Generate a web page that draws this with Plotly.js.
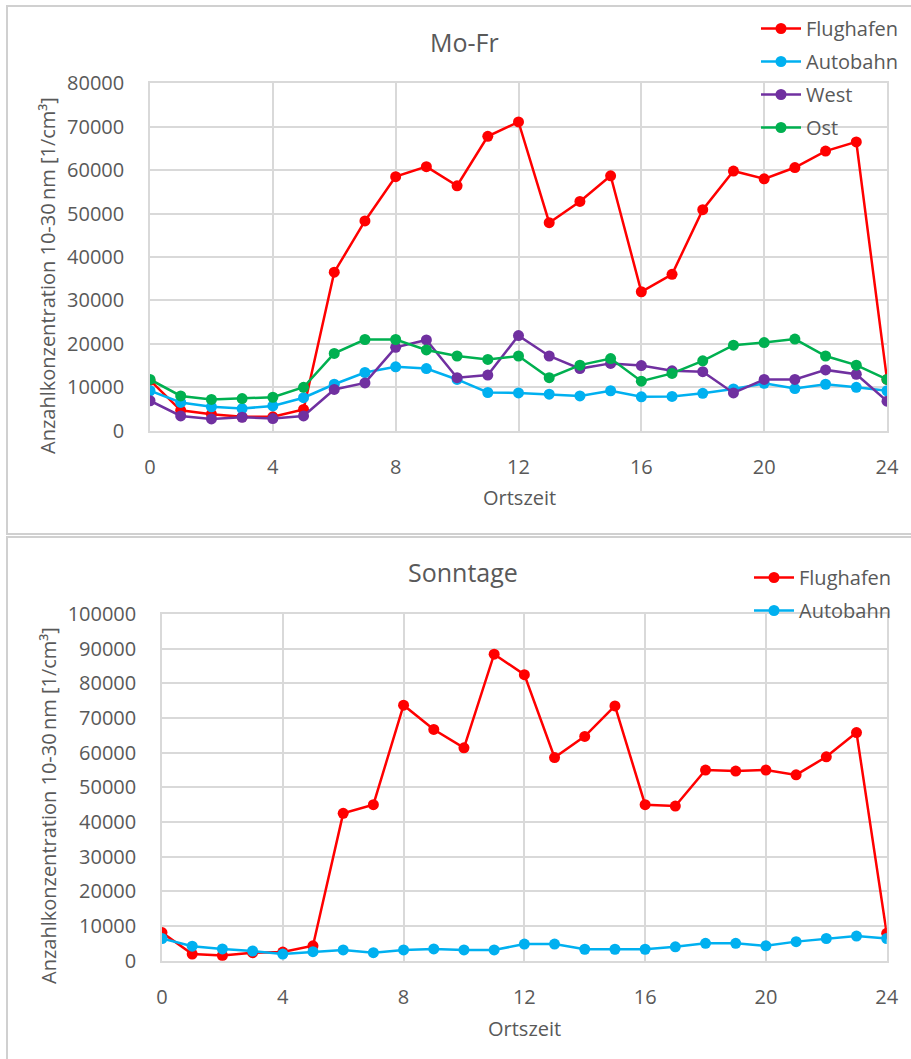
<!DOCTYPE html>
<html>
<head>
<meta charset="utf-8">
<script src="https://cdn.plot.ly/plotly-3.0.1.min.js"></script>
<style>
  html, body { margin: 0; padding: 0; background: #ffffff; }
  #chart { width: 911px; height: 1059px; }
</style>
</head>
<body>
<div id="chart"></div>
<script>
// Stunde des Tages (Ortszeit)
const hours = [0, 1, 2, 3, 4, 5, 6, 7, 8, 9, 10, 11, 12, 13, 14, 15, 16, 17, 18, 19, 20, 21, 22, 23, 24];

// Mo-Fr: Anzahlkonzentration 10-30 nm [1/cm³]
const moFrFlughafen = [11600, 4700, 3800, 3200, 3200, 4900, 36500, 48300, 58500, 60800, 56400, 67800, 71100,
                       47900, 52800, 58700, 32000, 36000, 50900, 59800, 58000, 60600, 64400, 66500, 11800];
const moFrAutobahn  = [9200, 6500, 5500, 5100, 5700, 7600, 10700, 13400, 14700, 14300, 11800, 8800, 8700,
                       8400, 8000, 9200, 7800, 7900, 8600, 9600, 10900, 9700, 10700, 10000, 9200];
const moFrWest      = [6900, 3400, 2700, 3100, 2800, 3400, 9500, 11000, 19200, 20900, 12200, 12800, 21900,
                       17200, 14300, 15500, 15000, 13800, 13600, 8700, 11800, 11800, 14000, 13000, 6800];
const moFrOst       = [11800, 8000, 7200, 7400, 7700, 10000, 17800, 21000, 21000, 18600, 17200, 16400, 17200,
                       12200, 15100, 16600, 11400, 13200, 16100, 19700, 20300, 21100, 17200, 15100, 11800];

// Sonntage
const soFlughafen = [8100, 1900, 1500, 2300, 2500, 4300, 42500, 45000, 73700, 66700, 61400, 88400, 82500,
                     58600, 64700, 73500, 45000, 44600, 55000, 54700, 55000, 53600, 58800, 65800, 7900];
const soAutobahn  = [6400, 4200, 3400, 2800, 1900, 2600, 3100, 2300, 3100, 3400, 3100, 3100, 4800,
                     4800, 3300, 3300, 3300, 4000, 5000, 5000, 4300, 5500, 6400, 7100, 6400];

const seriesNames = ['Flughafen', 'Autobahn', 'West', 'Ost'];
const seriesColors = ['#ff0000', '#00b0f0', '#7030a0', '#00b050'];

const textGray = '#595959';
const gridGray = '#d9d9d9';
const fontMain = 'Open Sans, Noto Sans, sans-serif';

function lineTrace(name, color, y, xa, ya, legend, group) {
  return {
    type: 'scatter', mode: 'lines+markers',
    x: hours, y: y, name: name,
    xaxis: xa, yaxis: ya, legend: legend, legendgroup: group,
    line: { color: color, width: 2.5 },
    marker: { color: color, size: 11 },
    hoverinfo: 'x+y+name'
  };
}

const traces = [
  lineTrace(seriesNames[0], seriesColors[0], moFrFlughafen, 'x', 'y', 'legend', 'a1'),
  lineTrace(seriesNames[1], seriesColors[1], moFrAutobahn, 'x', 'y', 'legend', 'a2'),
  lineTrace(seriesNames[2], seriesColors[2], moFrWest, 'x', 'y', 'legend', 'a3'),
  lineTrace(seriesNames[3], seriesColors[3], moFrOst, 'x', 'y', 'legend', 'a4'),
  lineTrace(seriesNames[0], seriesColors[0], soFlughafen, 'x2', 'y2', 'legend2', 'b1'),
  lineTrace(seriesNames[1], seriesColors[1], soAutobahn, 'x2', 'y2', 'legend2', 'b2')
];

const W = 911, H = 1059;
const px = v => v / W;           // pixel column -> paper x
const py = v => 1 - v / H;       // pixel row -> paper y

function xAxis(domain, anchor) {
  return {
    domain: domain, anchor: anchor,
    range: [0, 24], tickmode: 'linear', tick0: 0, dtick: 4,
    showgrid: true, gridcolor: gridGray, gridwidth: 1.5,
    showline: true, mirror: true, linecolor: gridGray, linewidth: 1.5,
    zeroline: false,
    ticks: 'outside', ticklen: 18, tickcolor: 'rgba(0,0,0,0)',
    tickfont: { family: fontMain, size: 20, color: textGray },
    fixedrange: true
  };
}
function yAxis(domain, anchor, top) {
  return {
    domain: domain, anchor: anchor,
    range: [0, top], tickmode: 'linear', tick0: 0, dtick: 10000, tickformat: 'd',
    showgrid: true, gridcolor: gridGray, gridwidth: 1.5,
    showline: true, mirror: true, linecolor: gridGray, linewidth: 1.5,
    zeroline: false,
    ticks: 'outside', ticklen: 20, tickcolor: 'rgba(0,0,0,0)',
    tickfont: { family: fontMain, size: 20, color: textGray },
    fixedrange: true
  };
}

function label(text, x, y, size, angle) {
  return {
    text: text, xref: 'paper', yref: 'paper', x: x, y: y,
    xanchor: 'center', yanchor: 'middle', showarrow: false,
    textangle: angle || 0,
    font: { family: fontMain, size: size, color: textGray }
  };
}

const yTitle = 'Anzahlkonzentration 10-30\u2009nm [1/cm³]';

function legendBox(x, y) {
  return {
    x: x, y: y, xanchor: 'left', yanchor: 'top',
    bgcolor: 'rgba(0,0,0,0)', borderwidth: 0,
    traceorder: 'grouped', tracegroupgap: 4, itemwidth: 40,
    font: { family: fontMain, size: 20, color: textGray }
  };
}

const layout = {
  width: W, height: H,
  margin: { l: 0, r: 0, t: 0, b: 0, pad: 0 },
  paper_bgcolor: '#ffffff', plot_bgcolor: '#ffffff',
  showlegend: true,
  xaxis: xAxis([px(150), px(887)], 'y'),
  yaxis: yAxis([py(430.7), py(83.3)], 'x', 80000),
  xaxis2: xAxis([px(162), px(886.7)], 'y2'),
  yaxis2: yAxis([py(960.7), py(614)], 'x2', 100000),
  legend: legendBox(px(756), py(9)),
  legend2: legendBox(px(749), py(558)),
  annotations: [
    label('Mo-Fr', px(464), py(42), 25),
    label('Sonntage', px(463), py(572), 25),
    label('Ortszeit', px(519), py(497), 20),
    label('Ortszeit', px(524), py(1028), 20),
    label(yTitle, px(48), py(276), 20, -90),
    label(yTitle, px(48), py(806), 20, -90)
  ],
  shapes: [
    // chart frames
    { type: 'rect', xref: 'paper', yref: 'paper', x0: px(7), x1: px(930), y0: py(534), y1: py(6),
      line: { color: '#d0d0d0', width: 2 }, layer: 'below' },
    { type: 'rect', xref: 'paper', yref: 'paper', x0: px(7), x1: px(930), y0: py(1080), y1: py(537),
      line: { color: '#d0d0d0', width: 2 }, layer: 'below' }
  ],
  hovermode: 'closest'
};

Plotly.newPlot('chart', traces, layout, { displayModeBar: false, staticPlot: false });
</script>
</body>
</html>
